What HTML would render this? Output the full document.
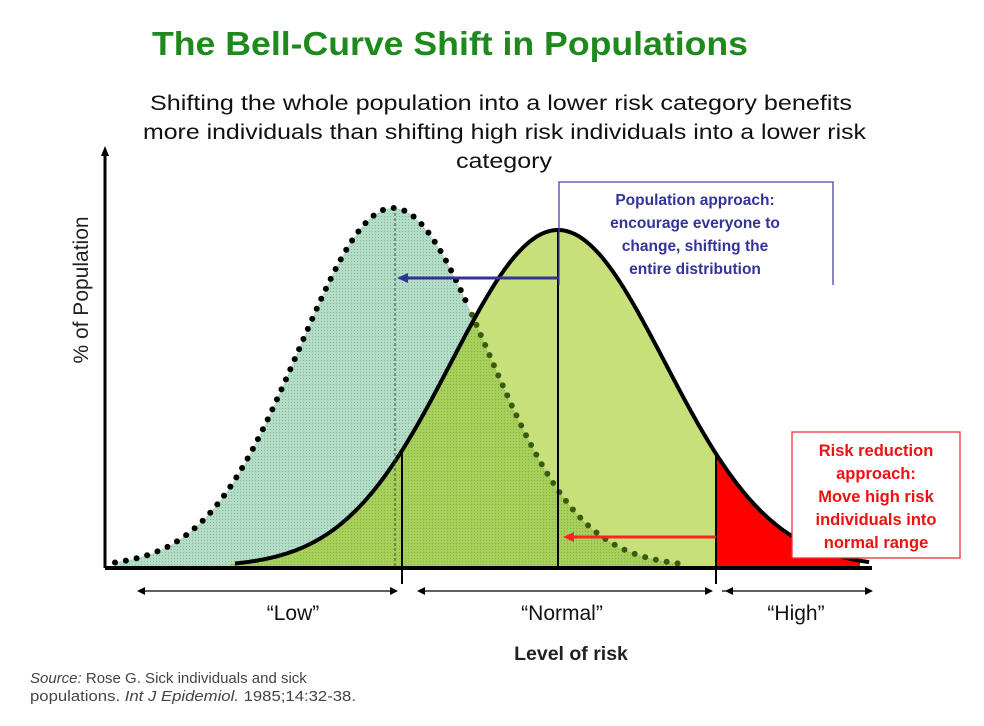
<!DOCTYPE html>
<html><head><style>
body{margin:0;background:#fff;}
svg{display:block;font-family:"Liberation Sans",sans-serif;}
</style></head><body>
<svg width="984" height="726" viewBox="0 0 984 726" xmlns="http://www.w3.org/2000/svg">
<defs>
<pattern id="dots" width="3" height="3" patternUnits="userSpaceOnUse"><rect width="3" height="3" fill="#b5dcc6"/><rect width="1" height="1" fill="#7cbc9c"/></pattern>
<pattern id="dots2" width="3" height="3" patternUnits="userSpaceOnUse"><rect width="3" height="3" fill="#a6d05a"/><rect width="1" height="1" fill="#86b24a"/></pattern>
</defs>
<text x="152" y="55" textLength="596" lengthAdjust="spacingAndGlyphs" font-size="33" font-weight="bold" fill="#1e8a1e">The Bell-Curve Shift in Populations</text>
<text x="150" y="110" textLength="702" lengthAdjust="spacingAndGlyphs" font-size="21" fill="#111">Shifting the whole population into a lower risk category benefits</text>
<text x="143" y="139" textLength="723" lengthAdjust="spacingAndGlyphs" font-size="21" fill="#111">more individuals than shifting high risk individuals into a lower risk</text>
<text x="456" y="168" textLength="96" lengthAdjust="spacingAndGlyphs" font-size="21" fill="#111">category</text>
<g id="g"></g>
<line x1="105" y1="568" x2="105" y2="152" stroke="#000" stroke-width="3"/>
<polygon points="105,146 101,156 109,156" fill="#000"/>
<text transform="translate(88,290) rotate(-90)" text-anchor="middle" font-size="21" fill="#222">% of Population</text>
<line x1="105" y1="568" x2="872" y2="568" stroke="#000" stroke-width="4"/>
<polyline points="559,285 559,182 833,182 833,285" fill="none" stroke="#4444aa" stroke-width="1.3"/>
<text font-size="15.5" font-weight="bold" fill="#333399" text-anchor="middle"><tspan x="695" y="205">Population approach:</tspan><tspan x="695" y="228">encourage everyone to</tspan><tspan x="695" y="251">change, shifting the</tspan><tspan x="695" y="274">entire distribution</tspan></text>
<rect x="792" y="432" width="168" height="126" fill="#fff" stroke="#ee3333" stroke-width="1.3"/>
<text font-size="16.5" font-weight="bold" fill="#ee1111" text-anchor="middle"><tspan x="876" y="456">Risk reduction</tspan><tspan x="876" y="479">approach:</tspan><tspan x="876" y="502">Move high risk</tspan><tspan x="876" y="525">individuals into</tspan><tspan x="876" y="548">normal range</tspan></text>
<g stroke="#000" stroke-width="1.2">
<line x1="140" y1="591" x2="395" y2="591"/><line x1="420" y1="591" x2="710" y2="591"/><line x1="722" y1="591" x2="870" y2="591"/>
</g>
<g fill="#000"><polygon points="137,591 145,587 145,595"/><polygon points="398,591 390,587 390,595"/><polygon points="417,591 425,587 425,595"/><polygon points="713,591 705,587 705,595"/><polygon points="725,591 733,587 733,595"/><polygon points="873,591 865,587 865,595"/></g>
<text font-size="21" fill="#111" text-anchor="middle"><tspan x="293" y="620">“Low”</tspan><tspan x="562" y="620">“Normal”</tspan><tspan x="796" y="620">“High”</tspan></text>
<text x="571" y="660" text-anchor="middle" font-size="19.5" font-weight="bold" fill="#222">Level of risk</text>
<text font-size="15" fill="#444"><tspan x="30" y="683" font-style="italic">Source:</tspan><tspan> Rose G. Sick individuals and sick</tspan></text>
<text x="30" y="701" font-size="15" fill="#444" textLength="326" lengthAdjust="spacingAndGlyphs">populations. <tspan font-style="italic">Int J Epidemiol.</tspan> 1985;14:32-38.</text>
</svg>
<script>
(function(){
var ns="http://www.w3.org/2000/svg",g=document.getElementById("g");
function el(t,a){var e=document.createElementNS(ns,t);for(var k in a)e.setAttribute(k,a[k]);g.appendChild(e);return e;}
function low(x){return 567-359*Math.exp(-Math.pow(x-393,2)/(2*94*94));}
function hi(x){return 567-337*Math.exp(-Math.pow(x-558,2)/(2*107*107));}
function path(f,a,b,close){var d="M"+a+","+f(a).toFixed(1);for(var x=a+2;x<=b;x+=2)d+=" L"+x+","+f(x).toFixed(1);if(close)d+=" L"+b+",567 L"+a+",567 Z";return d;}
el("path",{d:path(low,115,680,true),fill:"url(#dots)"});
el("path",{d:path(hi,230,716,true),fill:"#c8e07a"});
var d="M230,567";for(var x=230;x<=680;x+=2)d+=" L"+x+","+Math.max(low(x),hi(x)).toFixed(1);d+=" L680,567 Z";
el("path",{d:d,fill:"url(#dots2)"});
el("path",{d:path(hi,716,860,true),fill:"#ff0000"});
el("path",{d:path(low,115,470,false),fill:"none",stroke:"#000","stroke-width":6,"stroke-dasharray":"0 11","stroke-linecap":"round"});
el("path",{d:path(low,472,680,false),fill:"none",stroke:"#3a5a14","stroke-width":6,"stroke-dasharray":"0 11","stroke-linecap":"round"});
el("path",{d:path(hi,235,870,false),fill:"none",stroke:"#000","stroke-width":4});
el("line",{x1:395,y1:208,x2:395,y2:567,stroke:"#444","stroke-width":1,"stroke-dasharray":"3 2"});
el("line",{x1:402,y1:hi(402),x2:402,y2:584,stroke:"#000","stroke-width":2});
el("line",{x1:558,y1:230,x2:558,y2:567,stroke:"#000","stroke-width":2});
el("line",{x1:716,y1:hi(716),x2:716,y2:584,stroke:"#000","stroke-width":2});
el("line",{x1:558,y1:278,x2:405,y2:278,stroke:"#333399","stroke-width":3});
el("polygon",{points:"397,278 408,273 408,283",fill:"#333399"});
el("line",{x1:716,y1:537,x2:572,y2:537,stroke:"#ff2222","stroke-width":3});
el("polygon",{points:"563,537 574,532 574,542",fill:"#ff2222"});
})();
</script>
</body></html>
